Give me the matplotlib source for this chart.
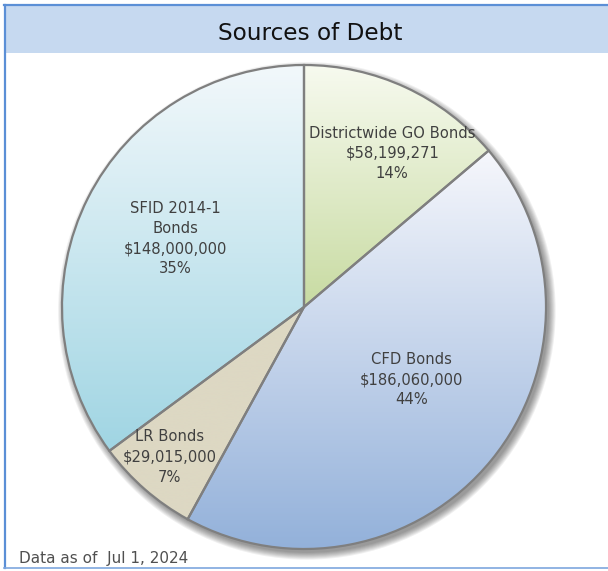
import matplotlib.pyplot as plt
import numpy as np
from matplotlib.colors import LinearSegmentedColormap
from matplotlib.patches import Circle, Rectangle

# debt sources, drawn clockwise from 12 o'clock
sources = ["Districtwide GO Bonds", "CFD Bonds", "LR Bonds", "SFID 2014-1\nBonds"]
amounts = [58_199_271, 186_060_000, 29_015_000, 148_000_000]
as_of = "Jul 1, 2024"

# top / bottom shade of each wedge's gradient
shades = [
    ("#f7faef", "#c8dba2"),
    ("#f6f7fc", "#93b1da"),
    ("#ddd8c3", "#ddd8c3"),
    ("#f2f8fb", "#a0d5e3"),
]
# label centres, in units of the pie radius
label_pos = [(0.365, 0.635), (0.445, -0.30), (-0.554, -0.62), (-0.531, 0.283)]

W, H = 608, 571
fig = plt.figure(figsize=(W / 100, H / 100), dpi=100)
fig.patch.set_facecolor("white")

# frame and title band
fig.patches.append(Rectangle((5 / W, 518 / H), 1, 48 / H, transform=fig.transFigure,
                             facecolor="#c6d9f0", edgecolor="none", zorder=0))
fig.lines.append(plt.Line2D([4 / W, 1], [566 / H, 566 / H], transform=fig.transFigure,
                            color="#5b8fd6", lw=1.6))
fig.lines.append(plt.Line2D([4.5 / W, 4.5 / W], [3 / H, 566 / H], transform=fig.transFigure,
                            color="#5b8fd6", lw=1.6))
fig.lines.append(plt.Line2D([4 / W, 1], [3 / H, 3 / H], transform=fig.transFigure,
                            color="#7ea7de", lw=1.2))
fig.text(310 / W, 538 / H, "Sources of Debt", ha="center", va="center",
         fontsize=16.7, color="#111111")
fig.text(19 / W, 13 / H, "Data as of  " + as_of, ha="left", va="center",
         fontsize=11, color="#505050")

cx, cy, r = 304, 307, 242
ax = fig.add_axes([(cx - r) / W, (H - cy - r) / H, 2 * r / W, 2 * r / H])
ax.set_xlim(-1, 1)
ax.set_ylim(-1, 1)
ax.axis("off")

# soft drop shadow down and to the right
for k in range(8):
    ax.add_patch(Circle((0.012, -0.016), 1.0 + k * 0.004, facecolor="#000000",
                        alpha=0.06, edgecolor="none", zorder=0, clip_on=False))

wedges, _ = ax.pie(amounts, startangle=90, counterclock=False, radius=1.0,
                   wedgeprops=dict(edgecolor="#7f7f7f", linewidth=1.6))

for w, (top, bottom) in zip(wedges, shades):
    w.set_facecolor("none")
    w.set_zorder(3)
    ext = w.get_path().get_extents()
    cmap = LinearSegmentedColormap.from_list("grad", [bottom, top])
    grad = np.linspace(0, 1, 256).reshape(-1, 1)
    im = ax.imshow(grad, cmap=cmap, origin="lower", aspect="auto", zorder=2,
                   extent=[-1, 1, ext.y0, ext.y1], interpolation="bicubic")
    im.set_clip_path(w)

ax.set_xlim(-1, 1)
ax.set_ylim(-1, 1)

total = sum(amounts)
for name, amt, (lx, ly) in zip(sources, amounts, label_pos):
    pct = 100 * amt / total
    ax.text(lx, ly, f"{name}\n${amt:,.0f}\n{pct:.0f}%",
            ha="center", va="center", fontsize=10.6, color="#404040",
            linespacing=1.43, zorder=5)

fig.savefig("out.png", dpi=100)
